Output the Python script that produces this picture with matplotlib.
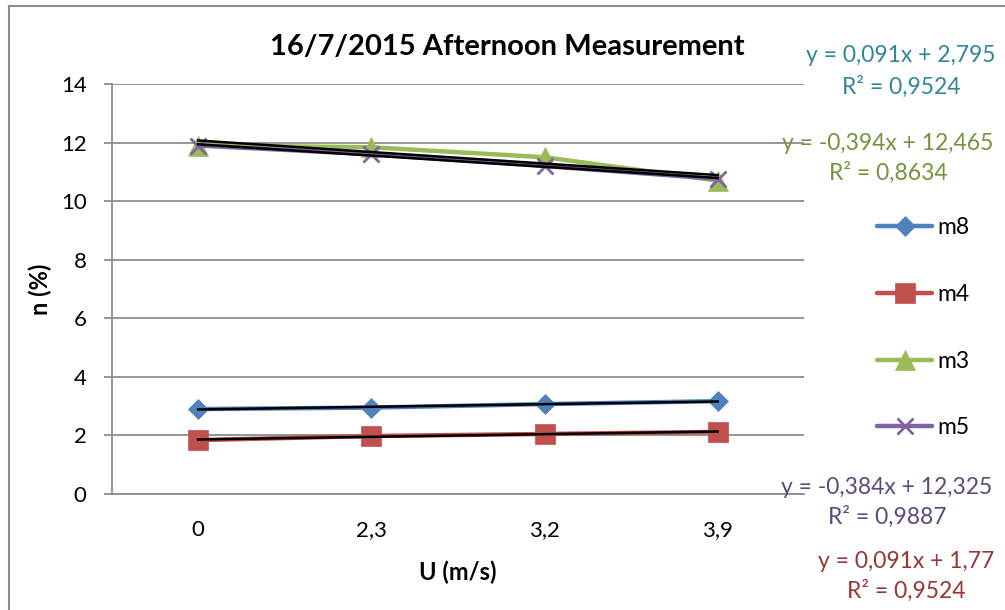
import matplotlib
matplotlib.use("Agg")
import matplotlib.pyplot as plt
import numpy as np
from matplotlib.lines import Line2D

plt.rcParams['font.family'] = ['Lato', 'DejaVu Sans']

# wind speed categories (m/s) and efficiency per module (%)
categories = ["0", "2,3", "3,2", "3,9"]
m8 = [2.90, 2.95, 3.07, 3.17]
m4 = [1.84, 1.98, 2.05, 2.12]
m3 = [11.90, 11.84, 11.50, 10.70]
m5 = [11.90, 11.60, 11.20, 10.76]

# linear trend coefficients (slope, intercept) over the category index 1..4
trend_m8 = (0.091, 2.795)
trend_m4 = (0.091, 1.77)
trend_m3 = (-0.394, 12.465)
trend_m5 = (-0.384, 12.325)
r2_m8, r2_m4, r2_m3, r2_m5 = 0.9524, 0.9524, 0.8634, 0.9887

yticks = [0, 2, 4, 6, 8, 10, 12, 14]

W, H = 1005, 610
fig = plt.figure(figsize=(W / 100, H / 100), dpi=100)


def fx(px):
    return px / W


def fy(py):
    return 1 - py / H


ax = fig.add_axes([fx(111.5), fy(494), fx(804.3) - fx(111.5), fy(84) - fy(494)])

grid_c = "#8c8c8c"
fs = 16
x = np.arange(1, len(categories) + 1)

series = [
    ("m8", m8, "#4F81BD", "D", 10.5, trend_m8),
    ("m4", m4, "#C0504D", "s", 14, trend_m4),
    ("m3", m3, "#9BBB59", "^", 14, trend_m3),
    ("m5", m5, "#8064A2", "x", 11, trend_m5),
]

handles = []
for name, vals, col, mk, ms, _ in series:
    h, = ax.plot(x, vals, color=col, lw=3.2, marker=mk, ms=ms,
                 markerfacecolor=col, markeredgecolor=col,
                 mew=2 if mk == "x" else 0.5, zorder=3,
                 solid_capstyle="round", label=name)
    handles.append(h)

for name, vals, col, mk, ms, (a, b) in series:
    ax.plot(x, a * x + b, color="black", lw=1.8, zorder=5)

ax.set_xlim(0.5, 4.5)
ax.set_ylim(0, 14)
ax.set_yticks(yticks)
ax.set_yticklabels([str(v) for v in yticks])
ax.set_xticks(x)
ax.set_xticklabels(categories)
ax.yaxis.grid(True, color=grid_c, lw=1.3, zorder=0)
ax.set_axisbelow(True)
for s in ["top", "right"]:
    ax.spines[s].set_visible(False)
for s in ["left", "bottom"]:
    ax.spines[s].set_color(grid_c)
    ax.spines[s].set_linewidth(1.3)
ax.tick_params(axis="y", length=6, width=1.3, color=grid_c, pad=12,
               labelsize=fs, labelcolor="black")
ax.tick_params(axis="x", length=0, pad=19, labelsize=fs, labelcolor="black")

fig.text(fx(40), fy(289), "n (%)", fontsize=17, fontweight="bold",
         ha="center", va="center", rotation=90)
fig.text(fx(458), fy(572), "U (m/s)", fontsize=17, fontweight="bold",
         ha="center", va="center")
fig.text(fx(507), fy(47), "16/7/2015 Afternoon Measurement", fontsize=21,
         fontweight="bold", ha="center", va="center")

# trend equations
def fmt(v, nd):
    return f"{v:.{nd}f}".rstrip("0").rstrip(",").replace(".", ",")


def eq_text(a, b):
    sign = "+" if b >= 0 else "-"
    return f"y = {fmt(a, 3)}x {sign} {fmt(abs(b), 3)}"


labels = [
    (trend_m8, r2_m8, "#31859C", 901, 55, 87),
    (trend_m3, r2_m3, "#76923C", 888, 144, 173),
    (trend_m5, r2_m5, "#5F497A", 887, 487, 517),
    (trend_m4, r2_m4, "#953735", 906, 561, 591),
]
for (a, b), r2, col, cx, y1, y2 in labels:
    fig.text(fx(cx), fy(y1), eq_text(a, b), color=col, fontsize=fs + 0.5,
             ha="center", va="center")
    fig.text(fx(cx), fy(y2), "R\u00b2 = " + fmt(r2, 4), color=col,
             fontsize=fs + 0.5, ha="center", va="center")

leg = fig.legend(handles=handles, loc="upper left",
                 bbox_to_anchor=(fx(877), fy(217)), frameon=False,
                 fontsize=fs + 0.5, handlelength=2.4, handletextpad=0.25,
                 labelspacing=2.0, borderpad=0, borderaxespad=0)

# chart area frame
fig.add_artist(Line2D([fx(8.5), fx(8.5)], [fy(5.5), 0], transform=fig.transFigure,
                      color=grid_c, lw=1.5))
fig.add_artist(Line2D([fx(8.5), 1], [fy(5.5), fy(5.5)], transform=fig.transFigure,
                      color=grid_c, lw=1.5))

fig.savefig("out.png", dpi=100)
